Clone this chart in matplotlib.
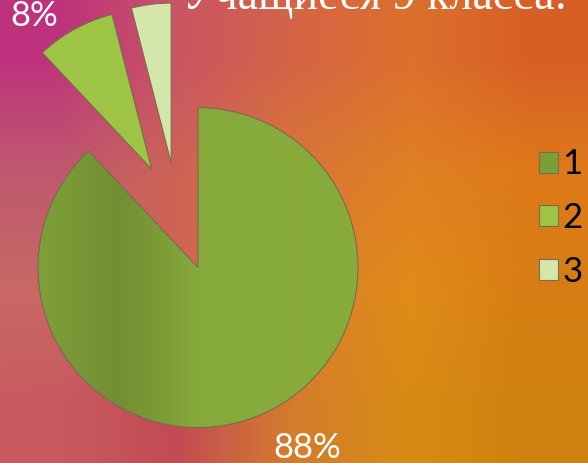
import matplotlib.pyplot as plt
import numpy as np
from matplotlib.colors import LinearSegmentedColormap

# data
labels = ['1', '2', '3']
shares = [88, 8, 4]
pct_text = ['88%', '8%']
title = 'Учащиеся 9 класса:'

W, H = 588, 463
R = 160.0  # pie radius in pixels, used as the data unit

fig = plt.figure(figsize=(W / 100, H / 100), dpi=100)

# background gradient (magenta -> orange)
bg_rgb = np.array([
    [(190, 50, 125), (202, 85, 100), (212, 100, 70), (220, 112, 45), (215, 95, 38)],
    [(190, 90, 110), (205, 100, 85), (216, 118, 55), (224, 128, 35), (222, 122, 25)],
    [(200, 105, 100), (205, 100, 85), (218, 126, 45), (225, 140, 25), (215, 125, 20)],
    [(200, 90, 95), (195, 75, 85), (212, 125, 45), (215, 140, 20), (205, 130, 15)],
]) / 255.0
bg = fig.add_axes([0, 0, 1, 1])
bg.imshow(bg_rgb, extent=(0, 1, 0, 1), aspect='auto', interpolation='bilinear')
bg.axis('off')

ax = fig.add_axes([0, 0, 1, 1])
ax.patch.set_alpha(0)

colors = ['#7c9e36', '#9dc444', '#d5e6ab']
wedges, _ = ax.pie(shares, colors=colors, startangle=90, counterclock=False,
                   explode=[0.34, 0.34, 0.34], radius=1.0,
                   center=(178 / R, (H - 217) / R),
                   wedgeprops=dict(edgecolor='#7a6a50', linewidth=0.8))

ax.set_xlim(0, W / R)
ax.set_ylim(0, H / R)
ax.set_aspect('equal')
ax.axis('off')

# legend first, so its squares keep the flat colours
leg = ax.legend(wedges, labels, loc='center left',
                bbox_to_anchor=(539 / W, (H - 218) / H), frameon=False,
                prop=dict(family='Lato', size=25), handlelength=0.55,
                handleheight=0.55, handletextpad=0.12, labelspacing=0.62,
                borderpad=0, borderaxespad=0)

# shading on the big slice: darker band on the left
shade = LinearSegmentedColormap.from_list('shade', [
    (0.0, '#7e9f39'), (0.25, '#728f33'), (0.5, '#86a93b'), (1.0, '#88ac3c')])
w0 = wedges[0]
cx, cy = w0.center
img = ax.imshow(np.linspace(0, 1, 256).reshape(1, -1), cmap=shade,
                extent=(cx - 1, cx + 1, cy - 1, cy + 1), aspect='auto',
                interpolation='bilinear', zorder=0.9)
img.set_clip_path(w0)
w0.set_facecolor('none')
ax.set_xlim(0, W / R)
ax.set_ylim(0, H / R)

# percent labels
ax.text(307 / R, (H - 448) / R, pct_text[0], color='white', fontsize=25,
        family='Lato', ha='center', va='center')
ax.text(34 / R, (H - 16) / R, pct_text[1], color='white', fontsize=25,
        family='Lato', ha='center', va='center')

# title, partly cut at the top (as in the original slide)
ax.text(375 / R, (H - 9) / R, title, color='white', fontsize=33,
        family='Liberation Serif', ha='center', va='baseline')

fig.savefig('out.png', dpi=100)
